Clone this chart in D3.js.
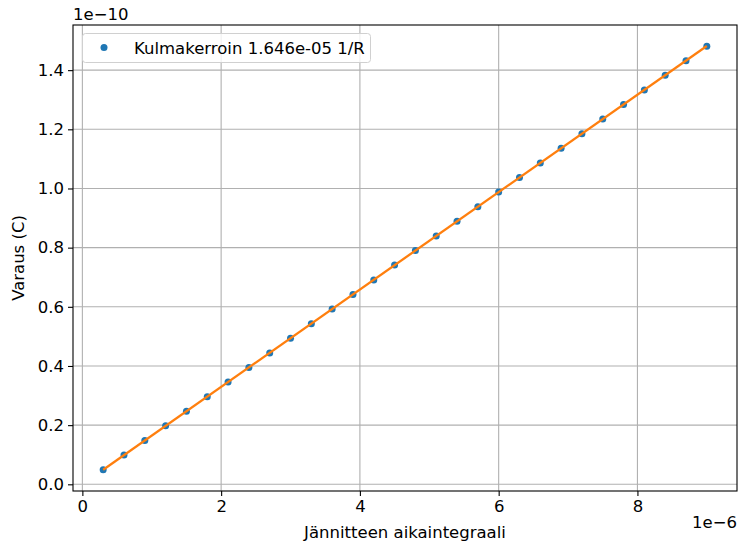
<!DOCTYPE html>
<html>
<head>
<meta charset="utf-8">
<script src="https://cdn.jsdelivr.net/npm/d3@7"></script>
<style>
  body { margin: 0; background: #fff; }
  svg { display: block; font-family: "DejaVu Sans", sans-serif; }
</style>
</head>
<body>
<svg id="chart" width="739" height="545"></svg>
<script>
// Measured samples (x in units of 1e-6, y in units of 1e-10)
const xValues = [0.3, 0.6, 0.9, 1.2, 1.5, 1.8, 2.1, 2.4, 2.7, 3.0,
                 3.3, 3.6, 3.9, 4.2, 4.5, 4.8, 5.1, 5.4, 5.7, 6.0,
                 6.3, 6.6, 6.9, 7.2, 7.5, 7.8, 8.1, 8.4, 8.7, 9.0];
const yValues = [0.049, 0.099, 0.148, 0.198, 0.247, 0.296, 0.346, 0.395, 0.444, 0.494,
                 0.543, 0.593, 0.642, 0.691, 0.741, 0.790, 0.839, 0.889, 0.938, 0.988,
                 1.037, 1.086, 1.136, 1.185, 1.235, 1.284, 1.333, 1.383, 1.432, 1.481];
// Fitted slope (C per V·s)
const slope = 1.646e-5;
const xTicks = [0, 2, 4, 6, 8];
const yTicks = [0.0, 0.2, 0.4, 0.6, 0.8, 1.0, 1.2, 1.4];
const legendLabel = "Kulmakerroin 1.646e-05 1/R";
const xLabel = "Jännitteen aikaintegraali";
const yLabel = "Varaus (C)";
const xOffset = "1e\u22126";
const yOffset = "1e\u221210";

const FS = "16.5px";
const svg = d3.select("#chart");
const L = 73, R = 737, T = 25, B = 491;

// 5% margins around the data, as in the usual plotting default
const xmin = d3.min(xValues), xmax = d3.max(xValues);
const ymin = d3.min(yValues), ymax = d3.max(yValues);
const xm = (xmax - xmin) * 0.05, ym = (ymax - ymin) * 0.05;
const x = d3.scaleLinear().domain([xmin - xm, xmax + xm]).range([L, R]);
const y = d3.scaleLinear().domain([ymin - ym, ymax + ym]).range([B, T]);

// grid
const grid = svg.append("g").attr("stroke", "#b0b0b0").attr("stroke-width", 1.1);
grid.selectAll("line.vx").data(xTicks).join("line")
  .attr("x1", d => x(d)).attr("x2", d => x(d)).attr("y1", T).attr("y2", B);
grid.selectAll("line.hy").data(yTicks).join("line")
  .attr("y1", d => y(d)).attr("y2", d => y(d)).attr("x1", L).attr("x2", R);

// axes
const xAxis = d3.axisBottom(x).tickValues(xTicks).tickFormat(d3.format("d")).tickSize(5).tickPadding(4);
const yAxis = d3.axisLeft(y).tickValues(yTicks).tickFormat(d3.format(".1f")).tickSize(5).tickPadding(4);
const gx = svg.append("g").attr("transform", `translate(0,${B})`).call(xAxis);
const gy = svg.append("g").attr("transform", `translate(${L},0)`).call(yAxis);
[gx, gy].forEach(g => {
  g.select(".domain").remove();
  g.selectAll(".tick line").attr("stroke", "#000").attr("stroke-width", 1.1);
  g.selectAll(".tick text").attr("fill", "#000").style("font-size", FS)
    .style("font-family", "DejaVu Sans, sans-serif");
});

// data points
svg.append("g").selectAll("circle").data(xValues).join("circle")
  .attr("cx", d => x(d)).attr("cy", (d, i) => y(yValues[i])).attr("r", 3.5)
  .attr("fill", "#1f77b4");

// fitted line
const fx = [xmin, xmax];
svg.append("path")
  .datum(fx)
  .attr("d", d3.line().x(d => x(d)).y(d => y(slope * d * 1e-6 / 1e-10)))
  .attr("fill", "none").attr("stroke", "#ff7f0e").attr("stroke-width", 2.3);

// frame
svg.append("rect").attr("x", L).attr("y", T).attr("width", R - L).attr("height", B - T)
  .attr("fill", "none").attr("stroke", "#000").attr("stroke-width", 1.1);

// legend
const lg = svg.append("g");
lg.append("rect").attr("x", 82.5).attr("y", 33.5).attr("width", 288).attr("height", 29)
  .attr("rx", 3).attr("fill", "#fff").attr("fill-opacity", 0.8)
  .attr("stroke", "#d0d0d0").attr("stroke-width", 1);
lg.append("circle").attr("cx", 104).attr("cy", 47.5).attr("r", 3.5).attr("fill", "#1f77b4");
lg.append("text").attr("x", 134).attr("y", 53.5).style("font-size", FS).text(legendLabel);

// labels
svg.append("text").attr("x", (L + R) / 2).attr("y", 538).attr("text-anchor", "middle")
  .style("font-size", FS).text(xLabel);
svg.append("text").attr("transform", `translate(24,${(T + B) / 2}) rotate(-90)`)
  .attr("text-anchor", "middle").style("font-size", FS).text(yLabel);
svg.append("text").attr("x", R).attr("y", 528).attr("text-anchor", "end")
  .style("font-size", FS).text(xOffset);
svg.append("text").attr("x", L).attr("y", 20).style("font-size", FS).text(yOffset);
</script>
</body>
</html>
